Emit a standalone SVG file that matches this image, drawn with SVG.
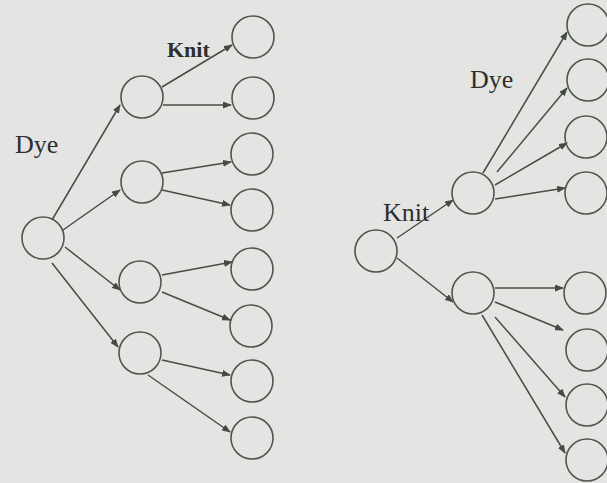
<svg xmlns="http://www.w3.org/2000/svg" width="607" height="483" viewBox="0 0 607 483">
<defs>
<marker id="ah" markerWidth="9" markerHeight="7" refX="8" refY="3.5" orient="auto" markerUnits="userSpaceOnUse">
<path d="M0,0 L9,3.5 L0,7 Z" fill="#444a44"/>
</marker>
</defs>
<style>
circle{fill:none;stroke:#4f554f;stroke-width:1.6}
.c line{stroke:#464c46;stroke-width:1.5;marker-end:url(#ah)}
text{font-family:"Liberation Serif","Times New Roman",serif;fill:#2e2e2e}
</style>
<rect width="607" height="483" fill="#e4e5e2"/>
<g class="c" id="connectors">
<line x1="52" y1="220" x2="120" y2="105"/>
<line x1="63" y1="230" x2="120" y2="190"/>
<line x1="65" y1="247" x2="120" y2="290"/>
<line x1="52" y1="263" x2="118" y2="347"/>
<line x1="162" y1="87" x2="232" y2="45"/>
<line x1="163" y1="105" x2="231" y2="105"/>
<line x1="162" y1="173" x2="231" y2="162"/>
<line x1="162" y1="190" x2="230" y2="205"/>
<line x1="162" y1="275" x2="232" y2="262"/>
<line x1="162" y1="292" x2="230" y2="320"/>
<line x1="162" y1="360" x2="230" y2="375"/>
<line x1="148" y1="375" x2="230" y2="432"/>
<line x1="397" y1="238" x2="453" y2="200"/>
<line x1="397" y1="258" x2="453" y2="302"/>
<line x1="483" y1="173" x2="567" y2="32"/>
<line x1="497" y1="172" x2="567" y2="88"/>
<line x1="495" y1="185" x2="567" y2="143"/>
<line x1="495" y1="199" x2="565" y2="188"/>
<line x1="495" y1="288" x2="563" y2="288"/>
<line x1="495" y1="302" x2="563" y2="330"/>
<line x1="495" y1="317" x2="565" y2="397"/>
<line x1="482" y1="315" x2="565" y2="453"/>
</g>
<g id="L-root"><circle cx="43" cy="238" r="21"/></g>
<g id="L-a"><circle cx="142" cy="97" r="21"/></g>
<g id="L-b"><circle cx="142" cy="182" r="21"/></g>
<g id="L-c"><circle cx="140" cy="282" r="21"/></g>
<g id="L-d"><circle cx="140" cy="353" r="21"/></g>
<g id="L-l1"><circle cx="253" cy="37" r="21"/></g>
<g id="L-l2"><circle cx="253" cy="98" r="21"/></g>
<g id="L-l3"><circle cx="252" cy="154" r="21"/></g>
<g id="L-l4"><circle cx="252" cy="210" r="21"/></g>
<g id="L-l5"><circle cx="252" cy="269" r="21"/></g>
<g id="L-l6"><circle cx="251" cy="326" r="21"/></g>
<g id="L-l7"><circle cx="252" cy="381" r="21"/></g>
<g id="L-l8"><circle cx="252" cy="438" r="21"/></g>
<g id="R-root"><circle cx="376" cy="251" r="21"/></g>
<g id="R-a"><circle cx="473" cy="193" r="21"/></g>
<g id="R-b"><circle cx="473" cy="293" r="21"/></g>
<g id="R-l1"><circle cx="588" cy="25" r="21"/></g>
<g id="R-l2"><circle cx="588" cy="80" r="21"/></g>
<g id="R-l3"><circle cx="586" cy="137" r="21"/></g>
<g id="R-l4"><circle cx="586" cy="193" r="21"/></g>
<g id="R-l5"><circle cx="585" cy="293" r="21"/></g>
<g id="R-l6"><circle cx="587" cy="350" r="21"/></g>
<g id="R-l7"><circle cx="587" cy="405" r="21"/></g>
<g id="R-l8"><circle cx="587" cy="460" r="21"/></g>
<g id="labels">
<text x="15" y="153" font-size="26">Dye</text>
<text x="167" y="57" font-size="22" font-weight="bold">Knit</text>
<text x="470" y="88" font-size="26">Dye</text>
<text x="383" y="221" font-size="26">Knit</text>
</g>
</svg>
